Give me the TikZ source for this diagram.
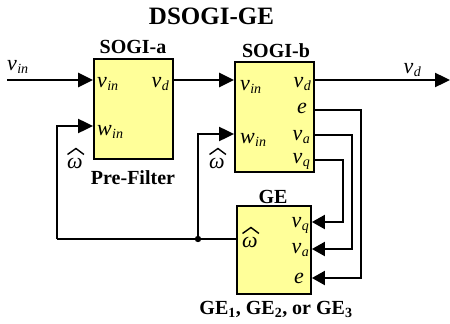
\documentclass[tikz,border=0pt]{standalone}
\usepackage{fontspec}
\setmainfont{Liberation Serif}
\usetikzlibrary{arrows.meta}
\definecolor{boxfill}{RGB}{255,255,153}
\newcommand\sig[2]{\textit{#1}\kern0.3pt\raisebox{-0.3ex}{\fontsize{14}{14}\selectfont\textit{#2}}}
\begin{document}
\begin{tikzpicture}[x=1pt,y=-1pt,
  blk/.style={draw=black,line width=1.8pt,fill=boxfill,inner sep=0pt},
  ttl/.style={font=\fontsize{20}{22}\selectfont\bfseries,inner sep=0pt},
  lab/.style={font=\fontsize{22}{24}\selectfont,inner sep=0pt},
  hatst/.style={line width=1.4pt,line join=miter},
  arr/.style={line width=2.4pt,-{Triangle[length=15pt,width=14pt]}},
  fb/.style={line width=2pt},
  fbarr/.style={line width=2pt,-{Triangle[length=13pt,width=14pt]}}]
\useasboundingbox (0,0) rectangle (450,324);
% blocks
\node[blk,minimum width=79pt,minimum height=100pt] (sa) at (133.5,109) {};
\node[blk,minimum width=79pt,minimum height=110pt] (sb) at (274.5,117) {};
\node[blk,minimum width=74pt,minimum height=88pt] (ge) at (274,250) {};
% titles
\node[ttl,font=\fontsize{25}{27}\selectfont\bfseries,anchor=base] (title) at (211.5,24) {DSOGI-GE};
\node[ttl,anchor=base] (tsa) at (133,53) {SOGI-a};
\node[ttl,anchor=base] (tpf) at (133,184) {Pre-Filter};
\node[ttl,anchor=base] (tsb) at (276,57) {SOGI-b};
\node[ttl,anchor=base] (tge) at (273,203) {GE};
\node[ttl,anchor=base] (tgen) at (276,314) {GE\textsubscript{1}, GE\textsubscript{2}, or GE\textsubscript{3}};
% coordinates
\coordinate (vinS) at (7,80);
\coordinate (vdE) at (450,80);
\coordinate (la) at (57,239);
\coordinate (lb) at (198,239);
\coordinate (ca) at (361,110);
\coordinate (cb) at (352,135);
\coordinate (cc) at (343,160);
% connectors
\draw[arr] (vinS) -- (vinS -| sa.west);
\draw[arr] (sa.east |- vinS) -- (sb.west |- vinS);
\draw[arr] (sb.east |- vinS) -- (vdE);
\draw[fb] (ge.west |- la) -- (la);
\draw[arr,line width=2pt] (la) -- (57,126) -- (sa.west |- 0,126);
\draw[arr,line width=2pt] (lb) -- (198,134) -- (sb.west |- 0,134);
\fill (lb) circle (3.2pt);
\draw[fbarr] (sb.east |- ca) -- (ca) -- (ca |- 0,278) -- (ge.east |- 0,278);
\draw[fbarr] (sb.east |- cb) -- (cb) -- (cb |- 0,249) -- (ge.east |- 0,249);
\draw[fbarr] (sb.east |- cc) -- (cc) -- (cc |- 0,222) -- (ge.east |- 0,222);
% signal labels
\node[lab,anchor=base west] (lvin) at (7,70) {\sig{v}{in}};
\node[lab,anchor=base east] (lvd) at (421,73) {\sig{v}{d}};
\node[lab,anchor=base west] (savin) at (97,87) {\sig{v}{in}};
\node[lab,anchor=base east] (savd) at (169,87) {\sig{v}{d}};
\node[lab,anchor=base west] (sawin) at (97,135) {\sig{w}{in}};
\node[lab,anchor=base west] (saom) at (67,168) {\textit{ω}};
\node[lab,anchor=base west] (sbvin) at (240,90) {\sig{v}{in}};
\node[lab,anchor=base west] (sbwin) at (240,143) {\sig{w}{in}};
\node[lab,anchor=base east] (sbvd) at (311,87) {\sig{v}{d}};
\node[lab,anchor=base east] (sbe) at (307,113) {\textit{e}};
\node[lab,anchor=base east] (sbva) at (310,140) {\sig{v}{a}};
\node[lab,anchor=base east] (sbvq) at (310,163) {\sig{v}{q}};
\node[lab,anchor=base west] (sbom) at (209,168) {\textit{ω}};
\node[lab,anchor=base east] (gevq) at (309,227) {\sig{v}{q}};
\node[lab,anchor=base east] (geva) at (309,253) {\sig{v}{a}};
\node[lab,anchor=base east] (gee) at (304,283) {\textit{e}};
\node[lab,anchor=base west] (geom) at (242,247) {\textit{ω}};
% hats over omega
\foreach \n in {saom,sbom,geom}{
  \draw[hatst] ([xshift=0.5pt,yshift=3pt]\n.north west) -- ([xshift=1pt,yshift=9pt]\n.north) -- ([xshift=1pt,yshift=3pt]\n.north east);
}
\end{tikzpicture}
\end{document}
